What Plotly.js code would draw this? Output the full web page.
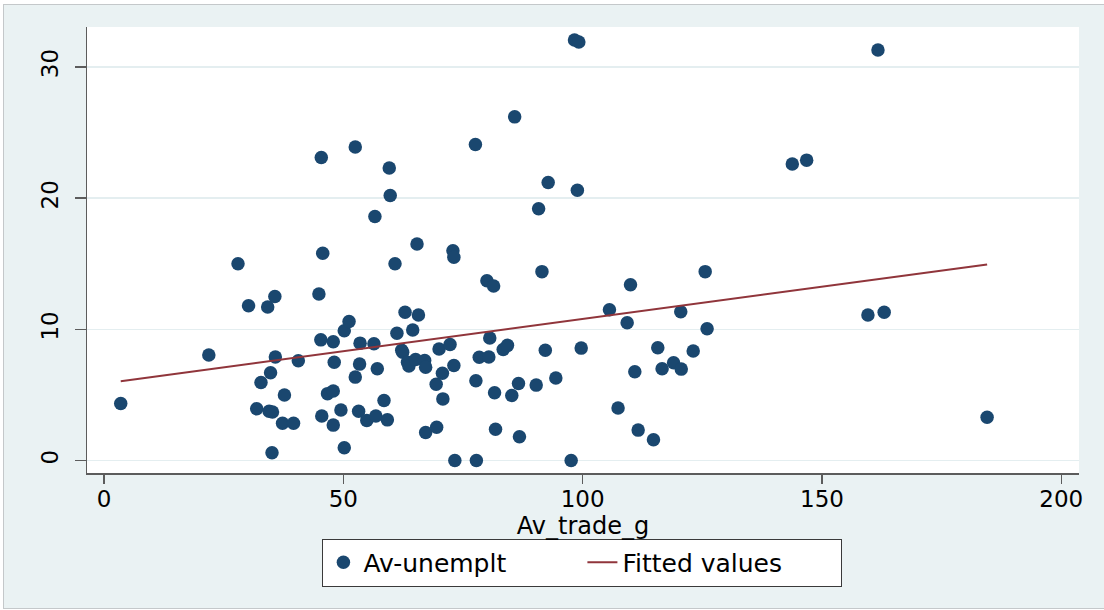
<!DOCTYPE html>
<html>
<head>
<meta charset="utf-8">
<script src="https://cdn.plot.ly/plotly-3.0.1.min.js"></script>
<style>
  html, body { margin: 0; padding: 0; background: #ffffff; }
  #chart {
    position: absolute; left: 3px; top: 4px;
    width: 1101px; height: 603px;
    border-left: 1px solid #c4c8ca; border-top: 1px solid #c4c8ca; border-bottom: 1px solid #c4c8ca;
  }
</style>
</head>
<body>
<div id="chart"></div>
<script>
// Av_trade_g (x) and Av-unemplt (y)
const tradeG = [3.5, 21.9, 28.0, 30.2, 34.2, 35.7, 31.9, 32.8, 34.8, 34.5,
  35.2, 35.1, 35.8, 37.7, 37.3, 39.6, 40.6, 44.9, 45.4, 45.7,
  45.3, 45.5, 47.9, 46.7, 47.9, 48.1, 47.9, 49.5, 50.2, 50.2,
  51.2, 52.5, 52.5, 53.5, 53.4, 53.2, 54.9, 56.6, 56.4, 57.1,
  56.8, 58.5, 59.2, 59.6, 59.8, 60.8, 61.2, 62.2, 62.4, 62.9,
  63.4, 63.7, 64.5, 65.1, 65.4, 65.7, 67.0, 67.2, 67.2, 69.5,
  69.4, 70.0, 70.7, 70.8, 72.3, 72.9, 73.1, 73.1, 73.3, 77.6,
  77.7, 77.8, 78.4, 80.0, 80.4, 80.6, 81.4, 81.6, 81.8, 83.4,
  84.3, 85.2, 85.8, 86.6, 86.8, 90.3, 90.8, 91.5, 92.2, 92.8,
  94.4, 97.6, 98.3, 99.2, 98.9, 99.7, 105.6, 107.4, 109.3, 110.0,
  110.9, 111.6, 114.8, 115.7, 116.6, 119.0, 120.6, 120.5, 123.1, 125.6,
  126.0, 143.8, 146.8, 159.6, 161.7, 163.0, 184.5];
const unemplt = [4.35, 8.05, 15.0, 11.8, 11.7, 12.5, 3.95, 5.95, 6.7, 3.75,
  3.7, 0.6, 7.9, 5.0, 2.85, 2.85, 7.6, 12.7, 23.1, 15.8,
  9.2, 3.4, 9.05, 5.1, 5.3, 7.5, 2.7, 3.85, 0.97, 9.9,
  10.6, 23.9, 6.36, 8.95, 7.35, 3.75, 3.05, 18.6, 8.9, 7.0,
  3.4, 4.58, 3.1, 22.3, 20.2, 15.0, 9.7, 8.4, 8.25, 11.3,
  7.5, 7.2, 9.95, 7.7, 16.5, 11.1, 7.63, 7.12, 2.14, 2.54,
  5.82, 8.5, 6.65, 4.7, 8.85, 16.0, 15.5, 7.25, 0.0, 24.1,
  6.08, 0.0, 7.87, 13.7, 7.89, 9.34, 13.3, 5.17, 2.39, 8.47,
  8.78, 4.96, 26.2, 5.88, 1.81, 5.75, 19.2, 14.4, 8.4, 21.2,
  6.3, 0.0, 32.06, 31.9, 20.6, 8.57, 11.5, 4.0, 10.5, 13.4,
  6.77, 2.32, 1.58, 8.6, 7.0, 7.45, 6.97, 11.35, 8.35, 14.4,
  10.05, 22.6, 22.9, 11.1, 31.3, 11.3, 3.3];
// Fitted values line endpoints
const fitX = [3.5, 184.5];
const fitY = [6.05, 14.94];
const xTicks = [0, 50, 100, 150, 200];
const yTicks = [0, 10, 20, 30];
const xTitle = 'Av_trade_g';
const seriesNames = ['Av-unemplt', 'Fitted values'];

const FONT = 'DejaVu Sans, Liberation Sans, Arial, sans-serif';
const BG = '#eaf2f3';
const AX = '#5c5c5c';

const traces = [
  {
    type: 'scatter', mode: 'markers', name: seriesNames[0],
    x: tradeG, y: unemplt,
    marker: { color: '#1a476f', size: 13.5, line: { width: 0 } }
  },
  {
    type: 'scatter', mode: 'lines', name: seriesNames[1],
    x: fitX, y: fitY,
    line: { color: '#90353b', width: 2 }
  }
];

const layout = {
  width: 1101, height: 603,
  margin: { l: 83, r: 26, t: 22, b: 135 },
  paper_bgcolor: BG,
  plot_bgcolor: '#ffffff',
  font: { family: FONT, size: 22, color: '#000000' },
  showlegend: true,
  legend: {
    orientation: 'h',
    x: 0.4994, xanchor: 'center',
    y: -0.147, yanchor: 'top',
    bgcolor: '#ffffff', bordercolor: '#3a3a3a', borderwidth: 1,
    font: { family: FONT, size: 25, color: '#000000' },
    entrywidth: 214, itemwidth: 30
  },
  xaxis: {
    range: [-3.55, 203.7],
    tickmode: 'array', tickvals: xTicks, ticktext: xTicks.map(String),
    ticks: 'outside', ticklen: 9, tickwidth: 1.5, tickcolor: AX,
    ticklabelstandoff: -4,
    showline: true, linecolor: AX, linewidth: 1.5,
    showgrid: false, zeroline: false,
    tickfont: { family: FONT, size: 23 },
    title: { text: xTitle, font: { family: FONT, size: 24 }, standoff: 0 }
  },
  yaxis: {
    range: [-0.95, 33.05],
    tickmode: 'array', tickvals: yTicks, ticktext: yTicks.map(String),
    tickangle: -90,
    ticks: 'outside', ticklen: 11, tickwidth: 1.5, tickcolor: AX,
    ticklabelstandoff: 7,
    showline: true, linecolor: AX, linewidth: 1.5,
    showgrid: true, gridcolor: '#e4eef0', gridwidth: 1.5,
    zeroline: false,
    tickfont: { family: FONT, size: 23 }
  }
};

Plotly.newPlot('chart', traces, layout, { displayModeBar: false, staticPlot: true });
</script>
</body>
</html>
